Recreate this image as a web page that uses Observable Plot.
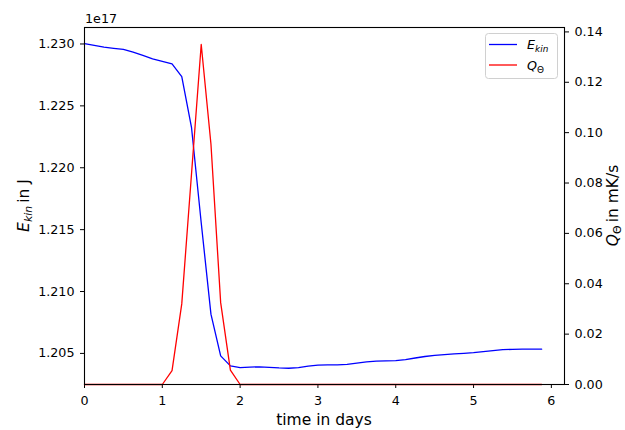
<!DOCTYPE html>
<html>
<head>
<meta charset="utf-8">
<script src="https://cdn.jsdelivr.net/npm/d3@7"></script>
<script src="https://cdn.jsdelivr.net/npm/@observablehq/plot@0.6"></script>
<style>
  html, body { margin: 0; padding: 0; background: #fff; }
  #chart { position: relative; width: 625px; height: 430px; }
  #chart svg { position: absolute; left: 0; top: 0; }
</style>
</head>
<body>
<div id="chart"></div>
<script>
// Time axis (days since start of the run)
const days = [
  0, 0.125, 0.25, 0.375, 0.5, 0.625, 0.75, 0.875,
  1, 1.125, 1.25, 1.375, 1.5, 1.625, 1.75, 1.875,
  2, 2.125, 2.25, 2.375, 2.5, 2.625, 2.75, 2.875,
  3, 3.125, 3.25, 3.375, 3.5, 3.625, 3.75, 3.875,
  4, 4.125, 4.25, 4.375, 4.5, 4.625, 4.75, 4.875,
  5, 5.125, 5.25, 5.375, 5.5, 5.625, 5.75, 5.875
];

// Kinetic energy, in units of 1e17 J
const ekin = [
  1.23002, 1.22988, 1.22974, 1.22965, 1.22957, 1.22934, 1.22907, 1.22880,
  1.22860, 1.22840, 1.22737, 1.22327, 1.21556, 1.20817, 1.20480, 1.20399,
  1.20385, 1.20390, 1.20391, 1.20388, 1.20383, 1.20380, 1.20385, 1.20398,
  1.20406, 1.20408, 1.20408, 1.20412, 1.20422, 1.20432, 1.20437, 1.20439,
  1.20441, 1.20450, 1.20463, 1.20475, 1.20484, 1.20491, 1.20497, 1.20501,
  1.20506, 1.20514, 1.20523, 1.20530, 1.20533, 1.20534, 1.20534, 1.20534
];

// Heating rate Q_Θ, in mK/s
const qTheta = [
  0, 0, 0, 0, 0, 0, 0, 0,
  0, 0.0055, 0.0320, 0.0835, 0.1350, 0.0955, 0.0325, 0.0057,
  0, 0, 0, 0, 0, 0, 0, 0,
  0, 0, 0, 0, 0, 0, 0, 0,
  0, 0, 0, 0, 0, 0, 0, 0,
  0, 0, 0, 0, 0, 0, 0, 0
];

const xTicks = [0, 1, 2, 3, 4, 5, 6];
const eTicks = [1.205, 1.210, 1.215, 1.220, 1.225, 1.230];
const qTicks = [0, 0.02, 0.04, 0.06, 0.08, 0.10, 0.12, 0.14];

const rows = days.map((t, i) => ({t, e: ekin[i], q: qTheta[i]}));

// Axis limits: 5% headroom on the data range, lower bounds pinned where the data start
const xDomain = [0, d3.max(days) * 1.05];
const [eMin, eMax] = d3.extent(ekin);
const ePad = (eMax - eMin) * 0.05;
const eDomain = [eMin - ePad, eMax + ePad];
const qDomain = [0, d3.max(qTheta) * 1.05];

const W = 625, H = 430;
const M = {marginLeft: 84, marginRight: 61, marginTop: 27, marginBottom: 46};
const style = {fontFamily: "DejaVu Sans", fontSize: "12.7px", color: "#000", background: "none", overflow: "visible"};

const pEkin = Plot.plot({
  width: W, height: H, ...M, style,
  x: {domain: xDomain},
  y: {domain: eDomain},
  marks: [
    Plot.axisX({ticks: xTicks, tickFormat: d => String(d), tickSize: 4, tickPadding: 7, label: null}),
    Plot.axisY({ticks: eTicks, tickFormat: d => d.toFixed(3), tickSize: 4, tickPadding: 6, label: null}),
    Plot.line(rows, {x: "t", y: "e", stroke: "#0000ff", strokeWidth: 1.3})
  ]
});

const pQ = Plot.plot({
  width: W, height: H, ...M, style,
  x: {domain: xDomain, axis: null},
  y: {domain: qDomain},
  marks: [
    Plot.axisY({anchor: "right", ticks: qTicks, tickFormat: d => d.toFixed(2), tickSize: 4, tickPadding: 6, label: null}),
    Plot.line(rows, {x: "t", y: "q", stroke: "#ff0000", strokeWidth: 1.3}),
    Plot.frame({stroke: "#000", strokeWidth: 1.1})
  ]
});

const chart = document.getElementById("chart");
chart.append(pEkin, pQ);

// Axis titles with math-style subscripts
const s1 = d3.select(pEkin);
s1.append("text")
  .attr("x", 85).attr("y", 22.5)
  .attr("text-anchor", "start")
  .attr("font-size", 12.7).attr("fill", "#000")
  .text("1e17");

s1.append("text")
  .attr("x", 324).attr("y", 425)
  .attr("text-anchor", "middle").attr("font-size", 15.5).attr("fill", "#000")
  .text("time in days");

const yl = s1.append("text")
  .attr("transform", "translate(29,205.5) rotate(-90)")
  .attr("text-anchor", "middle").attr("font-size", 15.5).attr("fill", "#000");
yl.append("tspan").attr("font-style", "italic").text("E");
yl.append("tspan").attr("font-style", "italic").attr("font-size", 10.9).attr("dy", 3.3).text("kin");
yl.append("tspan").attr("dy", -3.3).text("\u2009in J");

const s2 = d3.select(pQ);
const yr = s2.append("text")
  .attr("transform", "translate(618,205.5) rotate(-90)")
  .attr("text-anchor", "middle").attr("font-size", 15.5).attr("fill", "#000");
yr.append("tspan").attr("font-style", "italic").text("Q");
yr.append("tspan").attr("font-size", 10.9).attr("dy", 3).text("\u0398");
yr.append("tspan").attr("dy", -3).text("\u2009in mK/s");

// Legend box in the upper right corner
const lg = s2.append("g").attr("text-anchor", "start");
lg.append("rect")
  .attr("x", 485.5).attr("y", 33.5).attr("width", 72).attr("height", 45).attr("rx", 3)
  .attr("fill", "#fff").attr("fill-opacity", 0.8).attr("stroke", "#d0d0d0");
const entries = [
  {color: "#0000ff", main: "E", sub: "kin", subItalic: true},
  {color: "#ff0000", main: "Q", sub: "\u0398", subItalic: false}
];
entries.forEach((d, i) => {
  const y = 44.5 + i * 20.5;
  lg.append("line")
    .attr("x1", 489).attr("x2", 517).attr("y1", y).attr("y2", y)
    .attr("stroke", d.color).attr("stroke-width", 1.3);
  const t = lg.append("text")
    .attr("x", 527).attr("y", y + 4.8)
    .attr("font-size", 12.7).attr("fill", "#000");
  t.append("tspan").attr("font-style", "italic").text(d.main);
  t.append("tspan").attr("font-style", d.subItalic ? "italic" : "normal")
    .attr("font-size", 8.9).attr("dy", 2.7).text(d.sub);
});
</script>
</body>
</html>
